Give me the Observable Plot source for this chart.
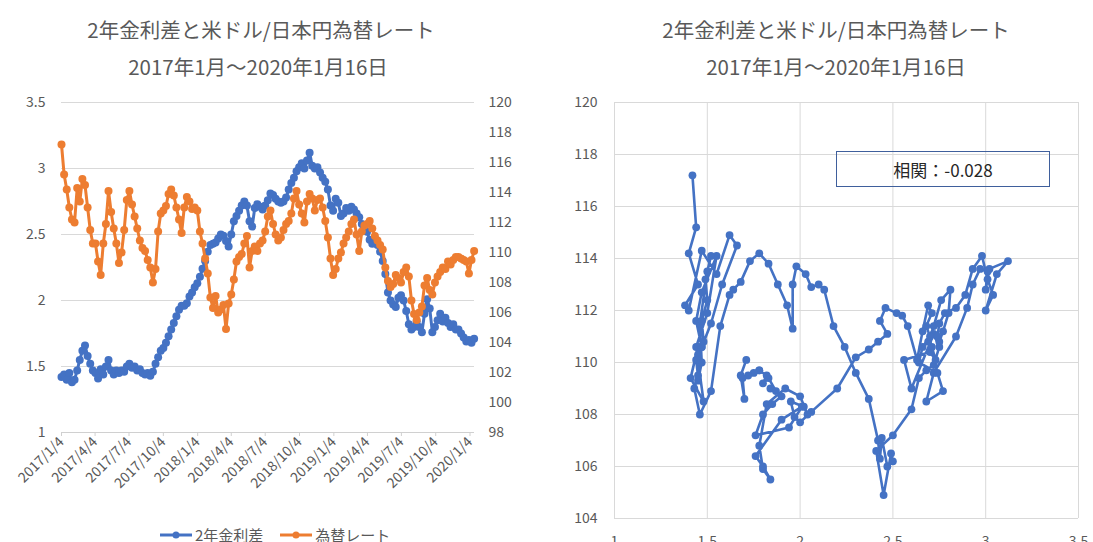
<!DOCTYPE html>
<html>
<head>
<meta charset="utf-8">
<script src="https://cdn.jsdelivr.net/npm/d3@7"></script>
<script src="https://cdn.jsdelivr.net/npm/@observablehq/plot@0.6"></script>
<style>
  html, body { margin: 0; padding: 0; width: 1093px; height: 542px; overflow: hidden; background: #fff; }
  body { position: relative; font-family: "Noto Sans CJK JP", "Noto Sans", sans-serif; color: #595959; }
  .abs { position: absolute; }
  .title { position: absolute; font-size: 20.5px; color: #595959; text-align: center; white-space: nowrap; transform: translateX(-50%); line-height: 1; }
  .legend { position: absolute; top: 527px; left: 159px; font-size: 15px; color: #595959; display: flex; align-items: center; white-space: nowrap; line-height: 1; }
  .legend svg { margin-right: 2px; }
  .corr { position: absolute; left: 836px; top: 151px; width: 212px; height: 34px; border: 1.3px solid #3f5f9c; font-size: 17px; color: #262626; display: flex; align-items: center; justify-content: center; line-height: 1; }
</style>
</head>
<body>
<div class="title" style="left:261px; top:19px;">2年金利差と米ドル/日本円為替レート</div>
<div class="title" style="left:258px; top:56px;">2017年1月～2020年1月16日</div>
<div class="title" style="left:836px; top:19px;">2年金利差と米ドル/日本円為替レート</div>
<div class="title" style="left:836px; top:56px;">2017年1月～2020年1月16日</div>
<div id="left" class="abs" style="left:0; top:0;"></div>
<div id="leftR" class="abs" style="left:0; top:0;"></div>
<div id="right" class="abs" style="left:550px; top:0;"></div>
<div class="corr" id="corr"></div>
<div class="legend" id="legend"></div>
<script>
// ---- data (weekly readings, from 2017-01-04 to 2020-01-15) ----
const startDate = "2017-01-04";
const seriesNames = ["2年金利差", "為替レート"];
const seriesColors = ["#4472C4", "#ED7D31"];
const spread = [
  1.42, 1.44, 1.40, 1.45, 1.38, 1.40, 1.47, 1.55, 1.62, 1.66, 1.58, 1.52, 1.47,
  1.45, 1.41, 1.48, 1.44, 1.50, 1.55, 1.47, 1.44, 1.47, 1.45, 1.47, 1.46, 1.50,
  1.52, 1.49, 1.50, 1.47, 1.48, 1.45, 1.44, 1.45, 1.43, 1.46, 1.52, 1.57, 1.62,
  1.64, 1.68, 1.73, 1.78, 1.83, 1.88, 1.93, 1.96, 1.96, 1.98, 2.03, 2.06, 2.10,
  2.13, 2.18, 2.24, 2.30, 2.37, 2.42, 2.43, 2.44, 2.47, 2.50, 2.49, 2.45, 2.41,
  2.50, 2.60, 2.64, 2.68, 2.72, 2.75, 2.72, 2.60, 2.56, 2.70, 2.73, 2.71, 2.69,
  2.72, 2.76, 2.81, 2.80, 2.77, 2.75, 2.74, 2.75, 2.78, 2.84, 2.89, 2.93, 2.98,
  3.01, 3.04, 3.00, 3.06, 3.12, 3.02, 3.00, 3.01, 2.97, 2.93, 2.90, 2.84, 2.72,
  2.68, 2.77, 2.74, 2.64, 2.66, 2.70, 2.68, 2.71, 2.69, 2.66, 2.63, 2.58, 2.55,
  2.52, 2.46, 2.43, 2.47, 2.42, 2.37, 2.30, 2.20, 2.06, 2.00, 1.97, 1.95, 2.02,
  2.04, 2.00, 1.92, 1.82, 1.78, 1.80, 1.84, 1.80, 1.76, 1.90, 2.01, 1.94, 1.76,
  1.80, 1.85, 1.90, 1.84, 1.87, 1.83, 1.80, 1.82, 1.78, 1.78, 1.75, 1.72, 1.69,
  1.70, 1.68, 1.71
];
const usdjpy = [
  117.2, 115.2, 114.2, 113.0, 112.2, 112.0, 114.3, 113.4, 114.9, 114.5, 113.0, 111.5, 110.6,
  110.6, 109.4, 108.5, 110.6, 111.9, 114.1, 112.7, 111.6, 110.6, 109.3, 110.0, 111.5, 113.5,
  114.1, 113.2, 112.4, 111.6, 110.8, 110.3, 110.1, 109.5, 109.0, 108.0, 108.9, 111.4, 112.6,
  112.8, 113.1, 113.9, 114.2, 113.8, 113.0, 112.2, 111.3, 113.0, 113.7, 113.4, 112.9, 113.0,
  112.8, 111.4, 110.6, 109.6, 108.6, 107.0, 106.3, 107.1, 106.0, 106.2, 106.5, 104.9, 106.6,
  107.2, 108.2, 109.4, 109.7, 109.9, 110.6, 111.1, 109.0, 110.1, 110.4, 110.1, 110.6, 110.8,
  111.4, 112.4, 112.8, 111.9, 111.2, 110.8, 111.0, 111.5, 111.9, 112.1, 112.6, 113.6, 114.1,
  113.2, 112.6, 112.0, 113.4, 113.9, 113.6, 112.8, 113.5, 113.6, 113.0, 112.1, 111.0, 109.6,
  108.5, 108.9, 109.6, 110.0, 110.6, 111.0, 111.4, 111.9, 112.2, 111.2, 110.1, 111.4, 111.8,
  111.9, 112.1, 111.6, 111.1, 110.8, 110.5, 110.2, 109.0, 108.1, 107.7, 107.9, 108.5, 108.3,
  108.0, 108.7, 109.0, 108.4, 106.8, 105.9, 105.5, 106.0, 106.4, 107.8, 108.3, 107.5, 107.2,
  108.0, 108.4, 108.7, 109.0, 108.9, 109.4, 109.2, 109.5, 109.7, 109.7, 109.6, 109.5, 109.4,
  108.6, 109.5, 110.1
];
const dateTicks = ["2017-01-04","2017-04-04","2017-07-04","2017-10-04","2018-01-04","2018-04-04",
  "2018-07-04","2018-10-04","2019-01-04","2019-04-04","2019-07-04","2019-10-04","2020-01-04"];
const leftTicks = [1, 1.5, 2, 2.5, 3, 3.5];
const rightTicks = [98, 100, 102, 104, 106, 108, 110, 112, 114, 116, 118, 120];
const scatterXTicks = [1, 1.5, 2, 2.5, 3, 3.5];
const scatterYTicks = [104, 106, 108, 110, 112, 114, 116, 118, 120];
const corrText = "相関：-0.028";

// ---- build table ----
const start = new Date(startDate + "T00:00:00Z");
const rows = spread.map((s, i) => ({date: d3.utcDay.offset(start, 7 * i), spread: s, rate: usdjpy[i]}));
const tickDates = dateTicks.map(d => new Date(d + "T00:00:00Z"));
const fmtDate = d => `${d.getUTCFullYear()}/${d.getUTCMonth() + 1}/${d.getUTCDate()}`;
const xDomain = [new Date("2017-01-04T00:00:00Z"), new Date("2020-01-16T00:00:00Z")];

const font = "'Noto Sans CJK JP', 'Noto Sans', sans-serif";
const dotR = 4, lineW = 3;
const common = {
  width: 540, height: 542,
  marginLeft: 61, marginRight: 66, marginTop: 102, marginBottom: 110,
  style: {fontFamily: font, fontSize: "14px", color: "#595959", background: "transparent", overflow: "visible"}
};

const left = Plot.plot({
  ...common,
  x: {type: "utc", domain: xDomain, axis: null},
  y: {domain: [1, 3.5], axis: null},
  marks: [
    Plot.gridY(leftTicks.slice(1), {stroke: "#d9d9d9", strokeOpacity: 1}),
    Plot.ruleY([1], {stroke: "#d0d0d0"}),
    Plot.axisY(leftTicks, {tickSize: 0, tickPadding: 16, tickFormat: d => String(d), fill: "#595959", label: null}),
    Plot.axisX(tickDates, {tickSize: 4, tickPadding: 3, tickRotate: -45, tickFormat: fmtDate, stroke: "#d0d0d0", fill: "#595959", label: null}),
    Plot.line(rows, {x: "date", y: "spread", stroke: seriesColors[0], strokeWidth: lineW}),
    Plot.dot(rows, {x: "date", y: "spread", r: dotR, fill: seriesColors[0], stroke: "none"})
  ]
});
document.getElementById("left").appendChild(left);

const leftR = Plot.plot({
  ...common,
  x: {type: "utc", domain: xDomain, axis: null},
  y: {domain: [98, 120], axis: null},
  marks: [
    Plot.axisY(rightTicks, {anchor: "right", tickSize: 0, tickPadding: 14, tickFormat: d => String(d), fill: "#595959", label: null}),
    Plot.line(rows, {x: "date", y: "rate", stroke: seriesColors[1], strokeWidth: lineW}),
    Plot.dot(rows, {x: "date", y: "rate", r: dotR, fill: seriesColors[1], stroke: "none"})
  ]
});
document.getElementById("leftR").appendChild(leftR);

const right = Plot.plot({
  width: 543, height: 560,
  marginLeft: 64, marginRight: 15, marginTop: 102, marginBottom: 42,
  style: {fontFamily: font, fontSize: "14px", color: "#595959", background: "transparent", overflow: "visible"},
  x: {domain: [1, 3.5], axis: null},
  y: {domain: [104, 120], axis: null},
  marks: [
    Plot.gridX(scatterXTicks, {stroke: "#d9d9d9", strokeOpacity: 1}),
    Plot.gridY(scatterYTicks, {stroke: "#d9d9d9", strokeOpacity: 1}),
    Plot.axisY(scatterYTicks, {tickSize: 0, tickPadding: 17, tickFormat: d => String(d), fill: "#595959", label: null}),
    Plot.axisX(scatterXTicks, {tickSize: 0, tickPadding: 18, tickFormat: d => String(d), fill: "#595959", label: null}),
    Plot.line(rows, {x: "spread", y: "rate", stroke: seriesColors[0], strokeWidth: 2.6}),
    Plot.dot(rows, {x: "spread", y: "rate", r: 3.9, fill: seriesColors[0], stroke: "none"})
  ]
});
document.getElementById("right").appendChild(right);

document.getElementById("corr").textContent = corrText;

// legend
const legend = document.getElementById("legend");
seriesNames.forEach((name, i) => {
  const item = document.createElement("span");
  item.style.display = "inline-flex";
  item.style.alignItems = "center";
  item.style.marginRight = i === 0 ? "16px" : "0";
  item.innerHTML = `<svg width="34" height="10"><line x1="1" y1="5" x2="33" y2="5" stroke="${seriesColors[i]}" stroke-width="3"/><circle cx="17" cy="5" r="3.5" fill="${seriesColors[i]}"/></svg><span>${name}</span>`;
  legend.appendChild(item);
});
</script>
</body>
</html>
